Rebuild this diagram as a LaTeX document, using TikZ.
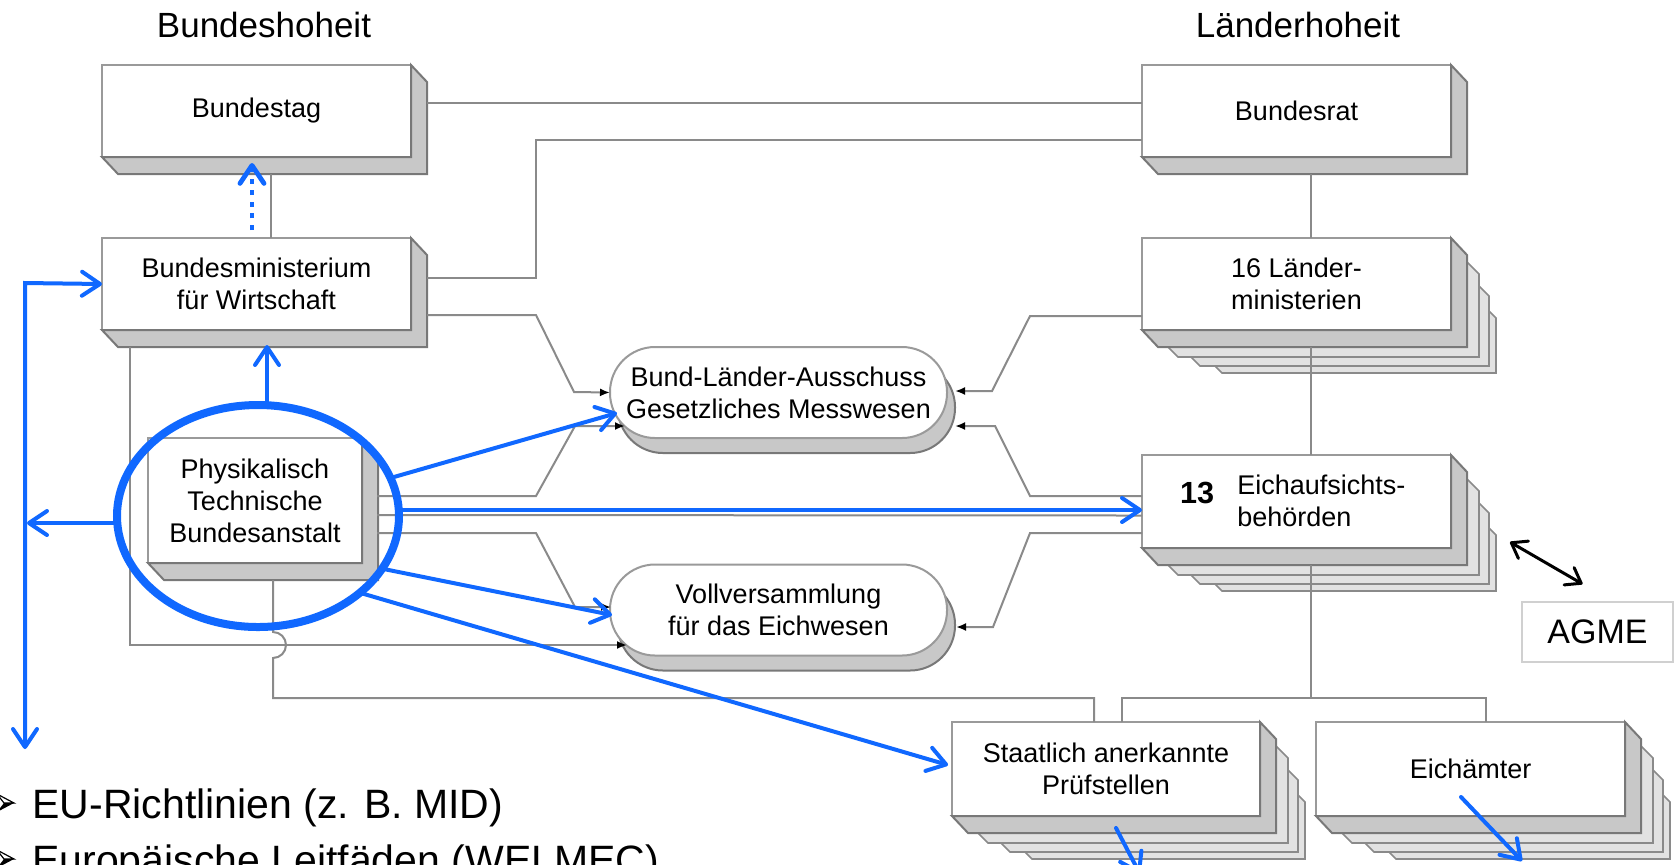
\documentclass[tikz,border=0pt]{standalone}
\usepackage{fontspec}
\setmainfont{Liberation Sans}
\usetikzlibrary{calc,arrows.meta,shapes.geometric,shadows}
\definecolor{pblue}{RGB}{16,104,255}
\definecolor{lgray}{HTML}{8A8A8A}
\definecolor{extfill}{HTML}{C8C8C8}
\definecolor{extline}{HTML}{787878}
\definecolor{facebord}{HTML}{9A9A9A}
\definecolor{sheetfill}{HTML}{E2E2E2}
\definecolor{agmebord}{HTML}{D0D0D0}
\newcommand\boxfont{\fontsize{13.5}{16}\selectfont}
\newcommand\extr[1]{\filldraw[extst] (#1.north east) -- ($(#1.north east)+(16,17)$) -- ($(#1.south east)+(16,17)$) -- ($(#1.south west)+(16,17)$) -- (#1.south west) -- (#1.south east) -- cycle;}
\newcommand\sheet[6]{\filldraw[sheetst] ($(#1.north east)+(#2,#6-#4+#2)$) -- ($(#1.north east)+(#4,#6)$) -- ($(#1.south east)+(#4,#5)$) -- ($(#1.south west)+(#6,#5)$) -- ($(#1.south west)+(#6-#5+#3,#3)$) -- ($(#1.south east)+(#2,#3)$) -- cycle;}
\newcommand\stackof[1]{\sheet{#1}{38}{36}{45}{43}{80}\sheet{#1}{28}{27}{38}{36}{58}\sheet{#1}{16}{17}{28}{27}{36}}
\tikzset{
  bb/.tip={Straight Barb[length=9pt,width=12pt,round]},
  kb/.tip={Straight Barb[length=7pt,width=10pt,round]},
  facebox/.style 2 args={draw=facebord, fill=white, line width=1.2pt, inner sep=0pt, outer sep=0pt,
    minimum width=#1*0.5pt, minimum height=#2*0.5pt, align=center, font=\boxfont},
  ovalbox/.style={draw=facebord, fill=white, line width=1pt, inner sep=0pt, outer sep=0pt,
    rounded corners=22.5pt, minimum width=168.5pt, minimum height=45.5pt, align=center, font=\boxfont,
    general shadow={shadow xshift=4pt, shadow yshift=-7.5pt, fill=extfill, draw=extline, line width=1pt}},
  extst/.style={fill=extfill, draw=extline, line width=1pt, line join=miter},
  sheetst/.style={fill=sheetfill, draw=lgray, line width=0.8pt},
  gl/.style={draw=lgray, line width=1pt},
  ga/.style={gl, -{Latex[length=5pt,width=4pt,color=black]}},
  bl/.style={draw=pblue, line width=2pt, line cap=round, -bb},
  hd/.style={font=\fontsize{17.5}{20}\selectfont}
}
\begin{document}
\begin{tikzpicture}[x=0.5pt,y=-0.5pt]
\fill[white] (0,0) rectangle (1679,864);
\useasboundingbox (0,0) rectangle (1679,864);

% headings
\node[hd] (hb) at (264,25) {Bundeshoheit};
\node[hd] (hl) at (1298,25) {Länderhoheit};

% boxes
\node[facebox={309}{92}] (bt) at (256.5,111) {Bundestag};
\node[facebox={309}{92}] (br) at (1296.5,111) {Bundesrat};
\node[facebox={309}{92}] (bmwi) at (256.5,284) {Bundesministerium\\für Wirtschaft};
\node[facebox={309}{92}] (lm) at (1296.5,284) {16 Länder-\\ministerien};
\node[facebox={214}{125}] (ptb) at (255,500.5) {Physikalisch\\Technische\\Bundesanstalt};
\node[facebox={309}{93}] (eab) at (1296.5,501.5) {};
\node[facebox={308}{94}] (sap) at (1106,769) {Staatlich anerkannte\\Prüfstellen};
\node[facebox={309}{94}] (ea) at (1470.5,769) {Eichämter};
\node[font=\bfseries\fontsize{15.3}{18}\selectfont] (t13) at (1197,493) {13};
\node[anchor=west, align=left, font=\boxfont, inner sep=0pt] (teab) at (1237,501) {Eichaufsichts-\\behörden};

\stackof{lm}\stackof{eab}\stackof{sap}\stackof{ea}
\foreach \n in {bt,br,bmwi,lm,ptb,eab,sap,ea} {\extr{\n}}

% ovals
\node[ovalbox] (bla) at (778.5,392.5) {Bund-Länder-Ausschuss\\Gesetzliches Messwesen};
\node[ovalbox] (vv) at (778.5,610) {Vollversammlung\\für das Eichwesen};

% AGME
\node[draw=agmebord, line width=1pt, minimum width=75.5pt, minimum height=30pt,
      font=\fontsize{17}{20}\selectfont] (agme) at (1597.5,632) {AGME};

% gray connectors
\draw[gl] ($(bt.east)+(16,-8)$) -- ($(br.west)+(0,-8)$);
\draw[gl] ($(bmwi.east)+(16,-6)$) -- (536,278) -- (536,140) -- ($(br.west)+(0,29)$);
\draw[gl] ($(bt.south)+(14.5,17)$) -- ($(bmwi.north)+(14.5,0)$);
\draw[ga] ($(bmwi.east)+(16,31)$) -- (536,315) -- (574,392) -- (bla.west);
\draw[ga] ($(bmwi.south west)+(28,17)$) -- (130,645) -- ($(vv.west)+(17,35)$);
\draw[ga] ($(ptb.east)+(15,-4.5)$) -- (536,496) -- (575,426) -- ($(bla.west)+(15,33.5)$);
\draw[gl] ($(ptb.east)+(15,14.5)$) -- ($(eab.west)+(0,14)$);
\draw[ga] ($(ptb.east)+(15,32.5)$) -- (536,533) -- (575,607) -- ($(vv.west)+(1,-3)$);
\draw[gl] ($(ptb.south)+(18,17)$) -- ++(0,52) arc[start angle=-90,end angle=90,radius=13] -- ++(0,40) -| ($(sap.north)+(-12,0)$);
\draw[ga] ($(lm.west)+(0,32)$) -- (1030,316) -- (992,391) -- ($(bla.east)+(8,-1.5)$);
\draw[ga] ($(eab.west)+(0,-5.5)$) -- (1030,496) -- (995,426) -- ($(bla.east)+(8,33.5)$);
\draw[ga] ($(eab.west)+(0,31.5)$) -- (1030,533) -- (993,627) -- ($(vv.east)+(9,17)$);
\draw[gl] ($(br.south)+(14.5,17)$) -- ($(lm.north)+(14.5,0)$);
\draw[gl] ($(lm.south)+(14.5,17)$) -- ($(eab.north)+(14.5,0)$);
\draw[gl] ($(eab.south)+(14.5,17)$) -- ++(0,133) coordinate (jn);
\draw[gl] ($(sap.north)+(16,0)$) |- (jn) -| ($(ea.north)+(15.5,0)$);

% blue highlight
\node[ellipse, draw=pblue, line width=4pt, minimum width=141pt, minimum height=111pt,
      inner sep=0pt, outer sep=0pt] (ell) at (258,516) {};
\coordinate (vtop) at (25,283);
\coordinate (vbot) at (25,749);
\coordinate (vmid) at (27,523);
\coordinate (sapout) at (1140,874);
\coordinate (eaout) at (1522,861);
\draw[bl, bb-bb, line join=miter] (vbot) -- (vtop) -- (bmwi.west);
\draw[bl, line cap=butt, line width=2.4pt, dash pattern=on 2.5pt off 3.3pt]
  ($(bmwi.north)+(-4.5,-8)$) -- ($(bt.south)+(-4.5,6)$);
\draw[bl] ($(ell.north)+(9,0)$) -- ($(bmwi.south)+(10.5,15)$);
\draw[bl] ($(ell.west)+(0,7)$) -- (vmid);
\draw[bl] (ell) -- ($(bla.west)+(7,20.5)$);
\draw[bl] ($(ell.east)+(0,-6)$) -- ($(eab.west)+(0,8.5)$);
\draw[bl] (ell.-23) -- ($(vv.west)+(2,5)$);
\draw[bl] (ell.-37) -- ($(sap.west)+(-4,-4)$);
\draw[bl] ($(sap.south)+(10,12)$) -- (sapout);
\draw[bl] ($(ea.center)+(-9.5,28)$) -- (eaout);

% AGME double arrow
\draw[black, line width=1.5pt, kb-kb] ($(eab.south east)+(59,-6)$) -- ($(agme.north)+(-15,-17)$);

% bottom list
\filldraw[draw=black, fill=white, line width=0.6pt] (-3,794) -- (14,803) -- (4,803) -- cycle;
\fill[black] (-3,812) -- (14,803) -- (4,803) -- cycle;
\filldraw[draw=black, fill=white, line width=0.6pt] (-3,850) -- (14,859) -- (4,859) -- cycle;
\fill[black] (-3,868) -- (14,859) -- (4,859) -- cycle;
\node[anchor=base west, inner sep=0pt, font=\fontsize{20.5}{24}\selectfont] (eu1) at (32,818) {EU-Richtlinien (z. B. MID)};
\node[anchor=base west, inner sep=0pt, font=\fontsize{20.5}{24}\selectfont] (eu2) at (32,874) {Europäische Leitfäden (WELMEC)};
\end{tikzpicture}
\end{document}
